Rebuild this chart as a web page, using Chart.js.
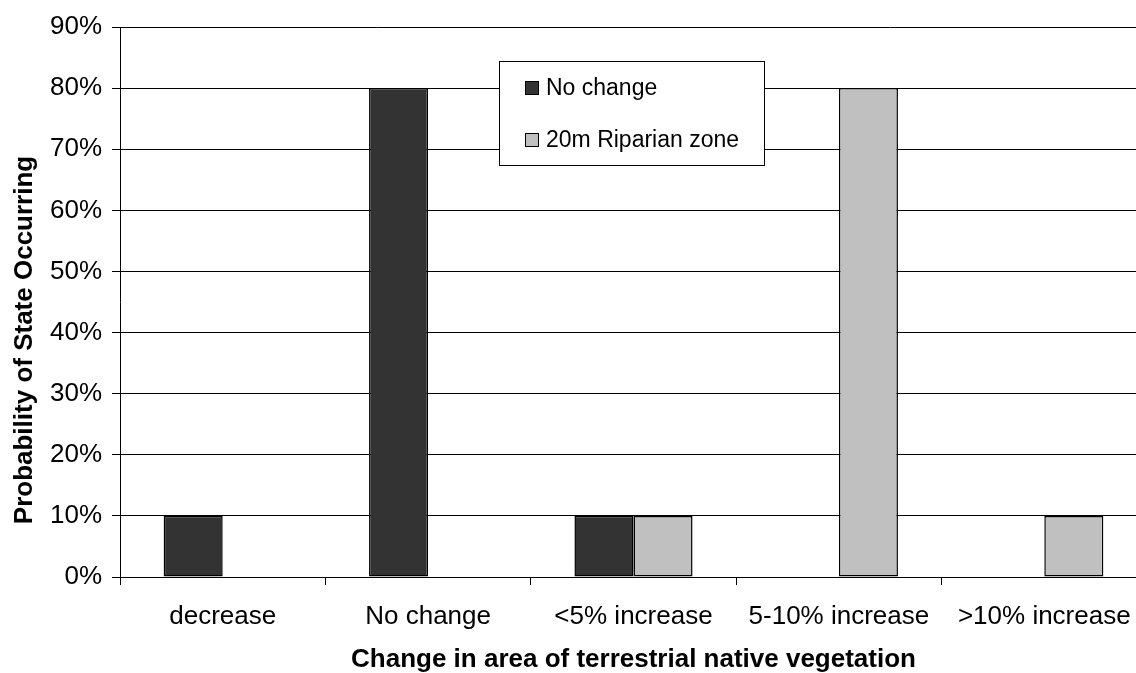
<!DOCTYPE html>
<html>
<head>
<meta charset="utf-8">
<script src="https://cdn.jsdelivr.net/npm/chart.js@4/dist/chart.umd.min.js"></script>
<style>
html,body{margin:0;padding:0;background:#fff;overflow:hidden;width:1136px;height:673px;}
#wrap{position:absolute;left:0;top:0;width:1147px;height:673px;}
</style>
</head>
<body>
<div id="wrap"><canvas id="c" width="1147" height="673"></canvas></div>
<script>
const categories = ['decrease', 'No change', '<5% increase', '5-10% increase', '>10% increase'];
const seriesNames = ['No change', '20m Riparian zone'];
const noChangeValues = [10, 80, 10, 0, 0];
const riparianValues = [0, 0, 10, 80, 10];
const yTicks = [0, 10, 20, 30, 40, 50, 60, 70, 80, 90];
const seriesColors = ['#333333', '#c0c0c0'];
const xTitle = 'Change in area of terrestrial native vegetation';
const yTitle = 'Probability of State Occurring';

const FONT = 'Liberation Sans, Arial, Helvetica, sans-serif';

const legendPlugin = {
  id: 'boxLegend',
  afterDraw(chart) {
    const ctx = chart.ctx;
    const x0 = 499.5, y0 = 61.5, w = 265, h = 104;
    ctx.save();
    ctx.fillStyle = '#fff';
    ctx.fillRect(x0, y0, w, h);
    ctx.strokeStyle = '#000';
    ctx.lineWidth = 1;
    ctx.strokeRect(x0, y0, w, h);
    ctx.font = '23px ' + FONT;
    ctx.textBaseline = 'middle';
    ctx.textAlign = 'left';
    const rows = [88, 140];
    chart.data.datasets.forEach((ds, i) => {
      const cy = rows[i];
      ctx.fillStyle = ds.backgroundColor;
      ctx.fillRect(525.5, cy - 6.5, 13, 13);
      ctx.strokeStyle = '#000';
      ctx.strokeRect(525.5, cy - 6.5, 13, 13);
      ctx.fillStyle = '#000';
      ctx.fillText(ds.label, 546, cy + 1);
    });
    // y axis title
    ctx.save();
    ctx.font = 'bold 26px ' + FONT;
    ctx.fillStyle = '#000';
    ctx.textAlign = 'center';
    ctx.textBaseline = 'alphabetic';
    ctx.translate(32, 340);
    ctx.rotate(-Math.PI / 2);
    ctx.fillText(yTitle, 0, 0);
    ctx.restore();
    ctx.restore();
  }
};

new Chart(document.getElementById('c'), {
  type: 'bar',
  data: {
    labels: categories,
    datasets: [
      { label: seriesNames[0], data: noChangeValues, backgroundColor: seriesColors[0], borderColor: '#000', borderWidth: 1.5, borderSkipped: false },
      { label: seriesNames[1], data: riparianValues, backgroundColor: seriesColors[1], borderColor: '#000', borderWidth: 1.5, borderSkipped: false }
    ]
  },
  options: {
    responsive: false,
    animation: false,
    devicePixelRatio: 1,
    layout: { padding: { top: 27, left: 0, right: 0, bottom: 0 } },
    plugins: { legend: { display: false }, tooltip: { enabled: false } },
    datasets: { bar: { categoryPercentage: 0.575, barPercentage: 1 } },
    scales: {
      x: {
        offset: true,
        grid: { display: true, drawOnChartArea: false, offset: true, tickLength: 8, color: '#000', lineWidth: 1 },
        border: { display: true, color: '#000', width: 1 },
        ticks: { color: '#000', font: { family: FONT, size: 26 }, padding: 16, maxRotation: 0, autoSkip: false },
        title: { display: true, text: xTitle, color: '#000', font: { family: FONT, size: 26, weight: 'bold', lineHeight: 1 }, padding: { top: 0, bottom: 0 } },
        afterFit(s) { s.height = 96; }
      },
      y: {
        min: 0, max: 90,
        afterBuildTicks(s) { s.ticks = yTicks.map(v => ({ value: v })); },
        grid: { color: '#000', lineWidth: 1, tickLength: 8 },
        border: { display: true, color: '#000', width: 1 },
        ticks: { color: '#000', font: { family: FONT, size: 26 }, padding: 10, callback: v => v + '%' },
        title: { display: false },
        afterFit(s) { s.width = 120; }
      }
    }
  },
  plugins: [legendPlugin]
});
</script>
</body>
</html>
